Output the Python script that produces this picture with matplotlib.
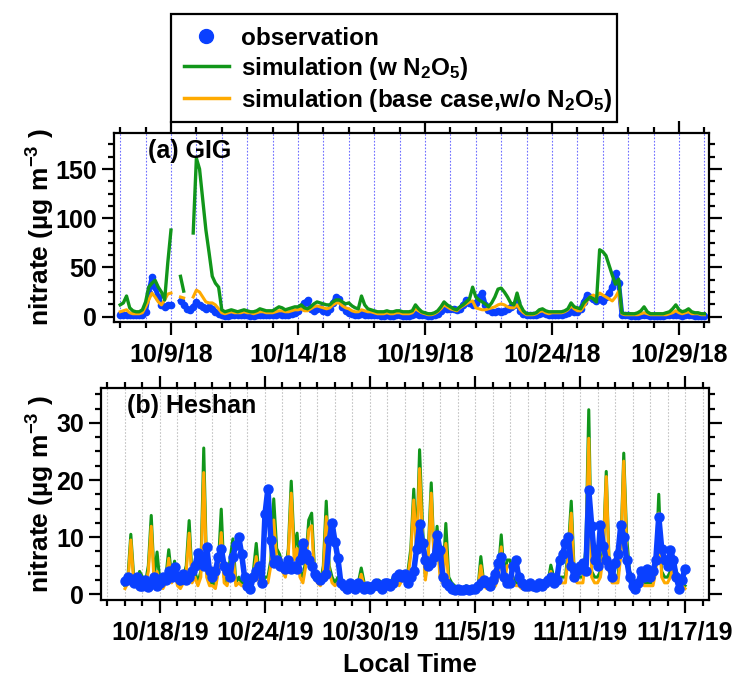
import numpy as np
import matplotlib
matplotlib.use("Agg")
import matplotlib.pyplot as plt
import matplotlib.dates as mdates
import matplotlib.ticker as mticker
import matplotlib.transforms as mtrans
from matplotlib.lines import Line2D
from matplotlib.patches import Rectangle

nan = np.nan

# ---- GIG, Oct 2018, 3-hourly (00,03,...,21 per row) ----
gig_start = '2018-10-07T00'
gig_obs = [
    2, 2, 2, 1.5, 1.5, 1.5, 1.5, 2,        # 10/7
    5, 24, 40, 30, 20, 12, 10, 12,         # 10/8
    12, nan, nan, 16, 12, 8, 7, 10,        # 10/9
    15, 12, 10, 8, 10, 8, 5, 3,            # 10/10
    2, 1, 1, 2, 2, 2, 1.5, 2,              # 10/11
    1.5, 1, 1, 1.5, 2, 2, 1.5, 1.5,        # 10/12
    1.5, 2, 3, 2, 2, 2, 3, 4,              # 10/13
    6, 10, 14, 17, 8, 6, 8, 9,             # 10/14
    6, 5, 8, 14, 20, 18, 10, 6,            # 10/15
    4, 3, 2, 2, 3, 2, 2, 2,                # 10/16
    2, 1.5, 1, 1, 1.5, 1, 1, 1.5,          # 10/17
    1.5, 1, 1, 1, 1.5, 3, 2, 1.5,          # 10/18
    1.5, 1, 1, 1.5, 3, 6, 9, 8,            # 10/19
    8, 8, 7, 8, 12, 17, 14, 12,            # 10/20
    14, 20, 24, 12, 7, 5, 5, 6,            # 10/21
    5, 6, 8, 10, 12, 15, 6, 3,             # 10/22
    2, 1.5, 1.5, 2, 3, 4, 3, 2,            # 10/23
    2, 2, 2, 2, 3, 4, 6, 5,                # 10/24
    5, 8, 15, 22, 20, 18, 16, 18,          # 10/25
    16, 20, 24, 30, 44, 34, 2, 1.5,        # 10/26
    1.5, 1, 1, 1, 1.5, 2, 1.5, 1,          # 10/27
    1, 1, 1, 1, 1.5, 1.5, 2, 2,            # 10/28
    1.5, 1, 1.5, 2, 1.5, 1, 1, 1,          # 10/29
    1,                                     # 10/30
]
gig_w_n2o5 = [
    12, 14, 21, 9, 6, 5, 5, 7,
    15, 30, 34, 37, 30, 25, 17, 55,
    88, nan, nan, 41, 26, nan, nan, 85,
    161, 150, 119, 88, 65, 41, 34, 30,
    7, 5, 6, 7, 6, 5, 6, 7,
    6, 5, 5, 6, 8, 7, 6, 6,
    6, 8, 10, 9, 7, 8, 9, 10,
    10, 12, 9, 8, 10, 13, 15, 14,
    13, 12, 12, 15, 17, 17, 15, 13,
    14, 11, 9, 8, 21, 12, 8, 7,
    6, 5, 5, 5, 6, 5, 5, 6,
    6, 5, 5, 5, 6, 12, 8, 5,
    4, 3, 3, 4, 6, 10, 15, 12,
    10, 8, 7, 10, 12, 15, 18, 30,
    20, 17, 15, 13, 10, 14, 20, 28,
    29, 25, 20, 14, 12, 24, 12, 6,
    3, 3, 3, 4, 7, 8, 6, 5,
    5, 5, 5, 5, 6, 8, 14, 10,
    9, 8, 14, 17, 20, 18, 15, 68,
    66, 62, 52, 42, 33, 38, 4, 3,
    3, 3, 3, 4, 6, 10, 5, 3,
    3, 3, 3, 3, 4, 5, 8, 12,
    7, 5, 6, 8, 5, 4, 4, 3,
    3,
]
gig_base = [
    5, 6, 7, 4, 3, 3, 3, 4,
    10, 17, 24, 20, 15, 12, 17, 23,
    24, nan, nan, 20, 19, nan, nan, 20,
    27, 25, 20, 15, 14, 14, 12, 8,
    4, 3, 4, 5, 4, 4, 4, 5,
    4, 4, 3, 4, 5, 5, 4, 4,
    4, 5, 6, 6, 5, 5, 6, 7,
    7, 8, 6, 6, 8, 10, 11, 10,
    9, 8, 9, 12, 14, 14, 11, 9,
    8, 6, 5, 5, 7, 6, 5, 5,
    4, 3, 3, 3, 4, 3, 3, 4,
    4, 3, 3, 3, 4, 8, 6, 4,
    3, 2, 2, 3, 5, 8, 12, 10,
    8, 7, 6, 9, 11, 13, 15, 16,
    9, 8, 7, 7, 8, 9, 10, 12,
    13, 12, 10, 9, 9, 12, 7, 4,
    2, 2, 2, 3, 5, 6, 4, 3,
    4, 4, 4, 4, 5, 7, 11, 8,
    6, 6, 10, 16, 20, 22, 20, 24,
    22, 20, 18, 16, 20, 26, 3, 2,
    2, 2, 2, 2, 3, 4, 3, 2,
    2, 2, 2, 2, 2, 3, 4, 6,
    4, 3, 4, 5, 3, 3, 3, 2,
    2,
]

# ---- Heshan, Oct-Nov 2019, 4-hourly (00,04,...,20 per row) ----
hs_start = '2019-10-16T00'
hs_obs = [
    2.4, 3, 2.5, 2, 3, 1.5,        # 10/16
    1.5, 2.5, 1.2, 2, 3, 1.5,      # 10/17
    2, 3, 2.5, 4, 3, 4.8,          # 10/18
    3, 2.5, 3.5, 2.5, 3, 4,        # 10/19
    5, 7.2, 6, 5, 8.3, 4,          # 10/20
    3, 4, 6.6, 8, 5, 4,            # 10/21
    3, 6.6, 8.6, 10, 7, 3,         # 10/22
    1.5, 1, 3, 4, 5, 2,            # 10/23
    14, 18.5, 9.5, 5.5, 6, 5,      # 10/24
    5, 4.5, 6, 4.5, 5, 4.5,        # 10/25
    6, 8.9, 7, 6, 5, 3.5,          # 10/26
    3, 2.5, 3, 3.5, 9.5, 12.4,     # 10/27
    9.2, 6.3, 2, 1.5, 1, 2,        # 10/28
    1.5, 1, 2, 1.5, 1, 1.5,        # 10/29
    1, 1.5, 2, 1.5, 1, 2,          # 10/30
    2, 1.5, 2, 3, 3.5, 3,          # 10/31
    3.5, 2, 3, 4, 8, 12.3,         # 11/1
    8.9, 6, 5, 5.5, 6.5, 10.4,     # 11/2
    7.8, 3, 2, 1.5, 1, 0.8,        # 11/3
    1, 0.8, 0.7, 1, 0.8, 1,        # 11/4
    1, 1.5, 2, 2.5, 2, 1.5,        # 11/5
    2.5, 3.5, 5.5, 6.6, 3, 2,      # 11/6
    2, 5, 6, 3, 2, 1.5,            # 11/7
    1.5, 2, 1.5, 1.3, 2, 1.5,      # 11/8
    2, 2.5, 3, 2, 2.5, 6,          # 11/9
    7, 8.9, 10.1, 5, 3, 4,         # 11/10
    5, 5.5, 4, 18.3, 12, 6,        # 11/11
    5, 12.2, 8.5, 6, 5, 3,         # 11/12
    5.5, 7, 12.2, 10.1, 6, 3,      # 11/13
    1.5, 1, 2, 4, 3, 4.5,          # 11/14
    3, 4, 6, 13.6, 8, 6,           # 11/15
    5, 7.8, 6, 3, 1, 2.5,          # 11/16
    4.5,                           # 11/17
]
hs_w_n2o5 = [
    1.5, 3, 10.5, 3, 2, 4,
    3, 2, 5, 13.8, 3, 7.4,
    2, 1.5, 3, 7.8, 3, 5.8,
    2, 1.5, 3, 5, 12.9, 3,
    4, 2, 4, 25.6, 4, 2,
    2, 1.5, 5, 14.9, 3, 2,
    6, 9.7, 2, 3, 2, 2,
    2, 2, 4, 8.9, 3, 2,
    3, 3, 6, 16.7, 8, 7,
    5, 4, 8, 19.8, 8, 10.7,
    4, 3, 6, 13, 14.2, 4,
    3, 2, 5, 16.3, 5, 3,
    2, 3, 2, 2, 2, 2,
    1.5, 1.5, 2, 4.6, 2, 1.5,
    1.5, 1.5, 2, 2.5, 2, 1.5,
    2, 2, 3, 3.5, 2, 3,
    3, 4, 8, 18.4, 8, 25.3,
    12, 3, 8, 19.5, 6, 11.9,
    4, 3, 12.4, 3, 2, 1.5,
    1.2, 1, 1, 1.5, 1, 1,
    1, 1, 6.6, 2, 1.5, 2,
    1.5, 2, 4, 10.4, 3, 6,
    6, 3, 2, 2, 1.5, 1.5,
    1, 1, 1.5, 2, 1.5, 1,
    1.5, 2, 5.1, 3, 2, 3,
    3, 3, 8, 16.3, 4, 3,
    3, 3, 8, 32.3, 4, 3,
    3, 4, 8, 21.5, 5, 3,
    3, 3, 8, 24.7, 10, 4,
    3, 2, 2, 3, 2, 2,
    2, 2, 5, 17.5, 4, 3,
    3, 4, 6, 4, 3, 2,
    1.5,
]
hs_base = [
    1, 2, 9.5, 2, 1.5, 3,
    2, 1.5, 4, 11.9, 2, 4,
    1.5, 1, 2, 6.3, 2, 4,
    1.5, 1, 2, 4, 10.7, 2,
    3, 1.5, 3, 21.3, 3, 1.5,
    1.5, 1, 4, 10.8, 2, 1.5,
    4, 7.2, 1.5, 2, 1.5, 1.5,
    1.5, 1.5, 3, 6.6, 2, 1.5,
    2, 2, 5, 13, 6, 5,
    4, 3, 7, 17.7, 6, 8,
    3, 2, 5, 11.3, 12, 3,
    2, 1.5, 4, 13.6, 4, 2,
    1.5, 2, 1.5, 1.5, 1.5, 1.5,
    1, 1, 1.5, 3.5, 1.5, 1,
    1, 1, 1.5, 2, 1.5, 1,
    1.5, 1.5, 2.5, 3, 1.5, 2.5,
    2.5, 3, 7, 16.5, 7, 22,
    10, 2.5, 7, 17.7, 5, 10,
    3, 2, 8.9, 2, 1.5, 1,
    1, 0.8, 0.8, 1.2, 0.8, 0.8,
    0.8, 0.8, 5, 1.5, 1, 1.5,
    1, 1.5, 3, 8.3, 2, 5,
    5, 2, 1.5, 1.5, 1, 1,
    0.8, 0.8, 1, 1.5, 1, 0.8,
    1, 1.5, 4, 2, 1.5, 2,
    2, 2, 7, 14.2, 3, 2,
    2, 2, 7, 27.3, 3, 2,
    2, 3, 7, 20.6, 4, 2,
    2, 2, 7, 23.3, 8, 3,
    2, 1.5, 1.5, 2, 1.5, 1.5,
    1.5, 1.5, 4, 14.2, 3, 2,
    2, 3, 5, 3, 2, 1.5,
    1,
]

gig_major = ['2018-10-09', '2018-10-14', '2018-10-19', '2018-10-24', '2018-10-29']
hs_major = ['2019-10-18', '2019-10-24', '2019-10-30', '2019-11-05', '2019-11-11', '2019-11-17']

labels = ['observation',
          'simulation (w N$_2$O$_5$)',
          'simulation (base case,w/o N$_2$O$_5$)']

c_obs = '#0a40ff'
c_w = '#11961a'
c_base = '#ffaa00'

FS = 18

plt.rcParams['font.family'] = ['Liberation Sans', 'DejaVu Sans']
plt.rcParams['font.weight'] = 'bold'
plt.rcParams['axes.labelweight'] = 'bold'
plt.rcParams['font.size'] = FS
plt.rcParams['mathtext.fontset'] = 'custom'
plt.rcParams['mathtext.rm'] = 'Liberation Sans:bold'
plt.rcParams['mathtext.it'] = 'Liberation Sans:bold'
plt.rcParams['mathtext.bf'] = 'Liberation Sans:bold'
plt.rcParams['mathtext.default'] = 'rm'

t_gig = np.datetime64(gig_start) + np.arange(len(gig_obs)) * np.timedelta64(3, 'h')
t_hs = np.datetime64(hs_start) + np.arange(len(hs_obs)) * np.timedelta64(4, 'h')

W, H = 734, 680
fig = plt.figure(figsize=(W / 100, H / 100), dpi=100)


def add_ax(l, t, r, b):
    return fig.add_axes([l / W, 1 - b / H, (r - l) / W, (b - t) / H])


def md_fmt(x, pos=None):
    d = mdates.num2date(x)
    return f'{d.month}/{d.day}/{d.year % 100}'


def style(ax, major_days, grid_color):
    ax.xaxis.set_major_locator(mticker.FixedLocator(
        mdates.date2num(np.array(major_days, dtype='datetime64[D]'))))
    ax.xaxis.set_minor_locator(mdates.DayLocator())
    ax.xaxis.set_major_formatter(mticker.FuncFormatter(md_fmt))
    ax.grid(True, which='both', axis='x', color=grid_color, ls=(0, (1.5, 1.5)), lw=0.8)
    ax.set_axisbelow(True)
    ax.tick_params(which='both', direction='out', top=True, right=True, width=1.6)
    ax.tick_params(which='major', length=9, labelsize=FS)
    ax.tick_params(which='minor', length=4.5)
    ax.tick_params(axis='x', which='major', pad=6)
    ax.tick_params(axis='y', which='major', pad=3)
    for sp in ax.spines.values():
        sp.set_linewidth(1.6)


# (a) GIG
ax1 = add_ax(114, 133, 709, 322)
ax1.plot(t_gig, gig_obs, color=c_obs, marker='o', ms=4.5, lw=3.5, zorder=2)
ax1.plot(t_gig, gig_base, color=c_base, lw=2.2, zorder=3)
ax1.plot(t_gig, gig_w_n2o5, color=c_w, lw=2.4, zorder=4)
ax1.set_xlim(np.datetime64('2018-10-06T18:10'), np.datetime64('2018-10-30T04:20'))
ax1.set_ylim(-5.4, 186.6)
ax1.yaxis.set_major_locator(mticker.MultipleLocator(50))
ax1.yaxis.set_minor_locator(mticker.MultipleLocator(12.5))
style(ax1, gig_major, '#6e6eff')

# (b) Heshan
ax2 = add_ax(101, 388, 709, 600)
ax2.plot(t_hs, hs_w_n2o5, color=c_w, lw=2.2, zorder=2)
ax2.plot(t_hs, hs_base, color=c_base, lw=2.2, zorder=3)
ax2.plot(t_hs, hs_obs, color=c_obs, marker='o', ms=6.5, lw=4, zorder=4)
ax2.set_xlim(np.datetime64('2019-10-14T15:06'), np.datetime64('2019-11-18T08:54'))
ax2.set_ylim(-1.0, 36.1)
ax2.yaxis.set_major_locator(mticker.MultipleLocator(10))
ax2.yaxis.set_minor_locator(mticker.MultipleLocator(2.5))
style(ax2, hs_major, '#c4c4c4')

ylab = 'nitrate (µg m$^{-3}$ )'
for ax in (ax1, ax2):
    ax.set_ylabel(ylab, fontsize=19)
    tr = mtrans.blended_transform_factory(fig.transFigure, ax.transAxes)
    ax.yaxis.set_label_coords(57 / W, 0.5, transform=tr)

fig.text(148 / W, 1 - 151 / H, '(a) GIG', ha='left', va='center', fontsize=FS)
fig.text(127 / W, 1 - 406 / H, '(b) Heshan', ha='left', va='center', fontsize=FS)
fig.text(410 / W, 1 - 665 / H, 'Local Time', ha='center', va='center', fontsize=FS + 0.5)

# legend box drawn separately so its padding can be set on each side
fig.patches.append(Rectangle((171 / W, 1 - 122 / H), 446 / W, 108 / H,
                             transform=fig.transFigure, fill=False,
                             edgecolor='black', lw=1.6, zorder=5))
handles = [Line2D([], [], ls='none', marker='o', ms=10, color=c_obs),
           Line2D([], [], color=c_w, lw=2.5),
           Line2D([], [], color=c_base, lw=2.5)]
leg = fig.legend(handles, labels, loc='upper left',
                 bbox_to_anchor=(184 / W, 1 - 27 / H), bbox_transform=fig.transFigure,
                 frameon=False, borderaxespad=0, borderpad=0,
                 handlelength=1.85, handletextpad=0.5,
                 labelspacing=0.2, fontsize=17.5)

fig.savefig('out.png', dpi=100)
